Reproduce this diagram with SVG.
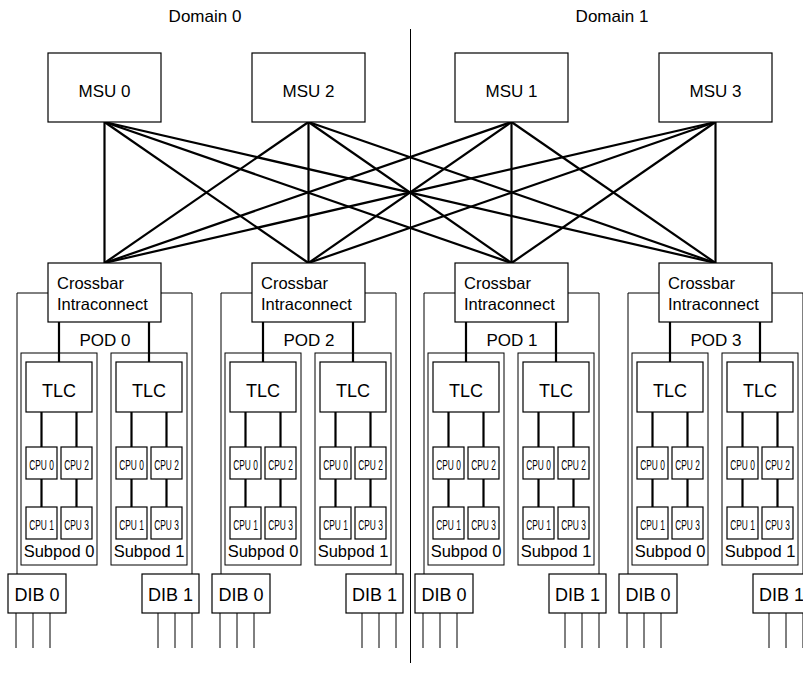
<svg xmlns="http://www.w3.org/2000/svg" width="803" height="677" viewBox="0 0 803 677">
<style>
.box{fill:#fff;stroke:#000;stroke-width:1.2}
.frame{fill:none;stroke:#000;stroke-width:1}
.link{stroke:#000;stroke-width:2.2;fill:none}
.thin{stroke:#000;stroke-width:1;fill:none}
text{font-family:"Liberation Sans",Arial,Helvetica,sans-serif;fill:#000}
.t17{font-size:17px}
.t18{font-size:18px}
.t16{font-size:16.5px}
.c{text-anchor:middle}
.cpu{font-size:14px;text-anchor:middle}
</style>

<!-- domain labels and divider -->
<text class="t17 c" x="205" y="22">Domain 0</text>
<text class="t17 c" x="612" y="22">Domain 1</text>
<line class="thin" x1="410.5" y1="29" x2="410.5" y2="663"/>

<!-- POD frames and subpod boxes -->
<g id="frames">
  <g transform="translate(0,0)">
    <polyline class="frame" points="17,574 17,293 192,293 192,574"/>
    <rect class="frame" x="21" y="353" width="76" height="212"/>
    <rect class="frame" x="111" y="353" width="76" height="212"/>
  </g>
  <g transform="translate(204,0)">
    <polyline class="frame" points="17,574 17,293 192,293 192,574"/>
    <rect class="frame" x="21" y="353" width="76" height="212"/>
    <rect class="frame" x="111" y="353" width="76" height="212"/>
  </g>
  <g transform="translate(407,0)">
    <polyline class="frame" points="17,574 17,293 192,293 192,574"/>
    <rect class="frame" x="21" y="353" width="76" height="212"/>
    <rect class="frame" x="111" y="353" width="76" height="212"/>
  </g>
  <g transform="translate(611,0)">
    <polyline class="frame" points="17,574 17,293 192,293 192,574"/>
    <rect class="frame" x="21" y="353" width="76" height="212"/>
    <rect class="frame" x="111" y="353" width="76" height="212"/>
  </g>
</g>

<!-- connectors -->
<g id="connectors">
  <g id="msu-xbar" class="link">
    <line x1="104.5" y1="122" x2="104.5" y2="263"/>
    <line x1="104.5" y1="122" x2="308.5" y2="263"/>
    <line x1="104.5" y1="122" x2="511.5" y2="263"/>
    <line x1="104.5" y1="122" x2="715.5" y2="263"/>
    <line x1="308.5" y1="122" x2="104.5" y2="263"/>
    <line x1="308.5" y1="122" x2="308.5" y2="263"/>
    <line x1="308.5" y1="122" x2="511.5" y2="263"/>
    <line x1="308.5" y1="122" x2="715.5" y2="263"/>
    <line x1="511.5" y1="122" x2="104.5" y2="263"/>
    <line x1="511.5" y1="122" x2="308.5" y2="263"/>
    <line x1="511.5" y1="122" x2="511.5" y2="263"/>
    <line x1="511.5" y1="122" x2="715.5" y2="263"/>
    <line x1="715.5" y1="122" x2="104.5" y2="263"/>
    <line x1="715.5" y1="122" x2="308.5" y2="263"/>
    <line x1="715.5" y1="122" x2="511.5" y2="263"/>
    <line x1="715.5" y1="122" x2="715.5" y2="263"/>
  </g>
  <g transform="translate(0,0)">
    <path class="link" d="M59,322V362M149,322V362M41.5,412V447M76.5,412V447M41.5,479V507M76.5,479V507M131.5,412V447M166.5,412V447M131.5,479V507M166.5,479V507"/>
    <path class="thin" d="M16,613V648M33,613V648M50,613V648M158,613V648M175,613V648M192,613V648"/>
  </g>
  <g transform="translate(204,0)">
    <path class="link" d="M59,322V362M149,322V362M41.5,412V447M76.5,412V447M41.5,479V507M76.5,479V507M131.5,412V447M166.5,412V447M131.5,479V507M166.5,479V507"/>
    <path class="thin" d="M16,613V648M33,613V648M50,613V648M158,613V648M175,613V648M192,613V648"/>
  </g>
  <g transform="translate(407,0)">
    <path class="link" d="M59,322V362M149,322V362M41.5,412V447M76.5,412V447M41.5,479V507M76.5,479V507M131.5,412V447M166.5,412V447M131.5,479V507M166.5,479V507"/>
    <path class="thin" d="M16,613V648M33,613V648M50,613V648M158,613V648M175,613V648M192,613V648"/>
  </g>
  <g transform="translate(611,0)">
    <path class="link" d="M59,322V362M149,322V362M41.5,412V447M76.5,412V447M41.5,479V507M76.5,479V507M131.5,412V447M166.5,412V447M131.5,479V507M166.5,479V507"/>
    <path class="thin" d="M16,613V648M33,613V648M50,613V648M158,613V648M175,613V648M192,613V648"/>
  </g>
</g>

<!-- MSU nodes -->
<g id="msu0"><rect class="box" x="48" y="53" width="113" height="69"/><text class="t17 c" x="104.5" y="97">MSU 0</text></g>
<g id="msu2"><rect class="box" x="252" y="53" width="113" height="69"/><text class="t17 c" x="308.5" y="97">MSU 2</text></g>
<g id="msu1"><rect class="box" x="455" y="53" width="113" height="69"/><text class="t17 c" x="511.5" y="97">MSU 1</text></g>
<g id="msu3"><rect class="box" x="659" y="53" width="113" height="69"/><text class="t17 c" x="715.5" y="97">MSU 3</text></g>

<!-- POD 0 -->
<g id="pod0" transform="translate(0,0)">
  <text class="t17 c" x="105" y="346">POD 0</text>
  <g id="pod0-xbar"><rect class="box" x="48" y="263" width="113" height="59"/><text class="t16" x="57" y="289">Crossbar</text><text class="t16" x="57" y="310">Intraconnect</text></g>
  <g id="pod0-subpod0">
    <text class="t16 c" x="59" y="557">Subpod 0</text>
    <g id="pod0-sp0-tlc"><rect class="box" x="26" y="362" width="66" height="50"/><text class="t18 c" x="59" y="397">TLC</text></g>
    <g id="pod0-sp0-cpu0"><rect class="box" x="26" y="447" width="31" height="32"/><text class="cpu" transform="translate(41.5,470) scale(0.6,1)">CPU 0</text></g>
    <g id="pod0-sp0-cpu2"><rect class="box" x="61" y="447" width="31" height="32"/><text class="cpu" transform="translate(76.5,470) scale(0.6,1)">CPU 2</text></g>
    <g id="pod0-sp0-cpu1"><rect class="box" x="26" y="507" width="31" height="32"/><text class="cpu" transform="translate(41.5,530) scale(0.6,1)">CPU 1</text></g>
    <g id="pod0-sp0-cpu3"><rect class="box" x="61" y="507" width="31" height="32"/><text class="cpu" transform="translate(76.5,530) scale(0.6,1)">CPU 3</text></g>
  </g>
  <g id="pod0-subpod1">
    <text class="t16 c" x="149" y="557">Subpod 1</text>
    <g id="pod0-sp1-tlc"><rect class="box" x="116" y="362" width="66" height="50"/><text class="t18 c" x="149" y="397">TLC</text></g>
    <g id="pod0-sp1-cpu0"><rect class="box" x="116" y="447" width="31" height="32"/><text class="cpu" transform="translate(131.5,470) scale(0.6,1)">CPU 0</text></g>
    <g id="pod0-sp1-cpu2"><rect class="box" x="151" y="447" width="31" height="32"/><text class="cpu" transform="translate(166.5,470) scale(0.6,1)">CPU 2</text></g>
    <g id="pod0-sp1-cpu1"><rect class="box" x="116" y="507" width="31" height="32"/><text class="cpu" transform="translate(131.5,530) scale(0.6,1)">CPU 1</text></g>
    <g id="pod0-sp1-cpu3"><rect class="box" x="151" y="507" width="31" height="32"/><text class="cpu" transform="translate(166.5,530) scale(0.6,1)">CPU 3</text></g>
  </g>
  <g id="pod0-dib0"><rect class="box" x="8" y="574" width="58" height="39"/><text class="t18 c" x="37" y="601">DIB 0</text></g>
  <g id="pod0-dib1"><rect class="box" x="142" y="574" width="57" height="39"/><text class="t18 c" x="170.5" y="601">DIB 1</text></g>
</g>

<!-- POD 2 -->
<g id="pod2" transform="translate(204,0)">
  <text class="t17 c" x="105" y="346">POD 2</text>
  <g id="pod2-xbar"><rect class="box" x="48" y="263" width="113" height="59"/><text class="t16" x="57" y="289">Crossbar</text><text class="t16" x="57" y="310">Intraconnect</text></g>
  <g id="pod2-subpod0">
    <text class="t16 c" x="59" y="557">Subpod 0</text>
    <g id="pod2-sp0-tlc"><rect class="box" x="26" y="362" width="66" height="50"/><text class="t18 c" x="59" y="397">TLC</text></g>
    <g id="pod2-sp0-cpu0"><rect class="box" x="26" y="447" width="31" height="32"/><text class="cpu" transform="translate(41.5,470) scale(0.6,1)">CPU 0</text></g>
    <g id="pod2-sp0-cpu2"><rect class="box" x="61" y="447" width="31" height="32"/><text class="cpu" transform="translate(76.5,470) scale(0.6,1)">CPU 2</text></g>
    <g id="pod2-sp0-cpu1"><rect class="box" x="26" y="507" width="31" height="32"/><text class="cpu" transform="translate(41.5,530) scale(0.6,1)">CPU 1</text></g>
    <g id="pod2-sp0-cpu3"><rect class="box" x="61" y="507" width="31" height="32"/><text class="cpu" transform="translate(76.5,530) scale(0.6,1)">CPU 3</text></g>
  </g>
  <g id="pod2-subpod1">
    <text class="t16 c" x="149" y="557">Subpod 1</text>
    <g id="pod2-sp1-tlc"><rect class="box" x="116" y="362" width="66" height="50"/><text class="t18 c" x="149" y="397">TLC</text></g>
    <g id="pod2-sp1-cpu0"><rect class="box" x="116" y="447" width="31" height="32"/><text class="cpu" transform="translate(131.5,470) scale(0.6,1)">CPU 0</text></g>
    <g id="pod2-sp1-cpu2"><rect class="box" x="151" y="447" width="31" height="32"/><text class="cpu" transform="translate(166.5,470) scale(0.6,1)">CPU 2</text></g>
    <g id="pod2-sp1-cpu1"><rect class="box" x="116" y="507" width="31" height="32"/><text class="cpu" transform="translate(131.5,530) scale(0.6,1)">CPU 1</text></g>
    <g id="pod2-sp1-cpu3"><rect class="box" x="151" y="507" width="31" height="32"/><text class="cpu" transform="translate(166.5,530) scale(0.6,1)">CPU 3</text></g>
  </g>
  <g id="pod2-dib0"><rect class="box" x="8" y="574" width="58" height="39"/><text class="t18 c" x="37" y="601">DIB 0</text></g>
  <g id="pod2-dib1"><rect class="box" x="142" y="574" width="57" height="39"/><text class="t18 c" x="170.5" y="601">DIB 1</text></g>
</g>

<!-- POD 1 -->
<g id="pod1" transform="translate(407,0)">
  <text class="t17 c" x="105" y="346">POD 1</text>
  <g id="pod1-xbar"><rect class="box" x="48" y="263" width="113" height="59"/><text class="t16" x="57" y="289">Crossbar</text><text class="t16" x="57" y="310">Intraconnect</text></g>
  <g id="pod1-subpod0">
    <text class="t16 c" x="59" y="557">Subpod 0</text>
    <g id="pod1-sp0-tlc"><rect class="box" x="26" y="362" width="66" height="50"/><text class="t18 c" x="59" y="397">TLC</text></g>
    <g id="pod1-sp0-cpu0"><rect class="box" x="26" y="447" width="31" height="32"/><text class="cpu" transform="translate(41.5,470) scale(0.6,1)">CPU 0</text></g>
    <g id="pod1-sp0-cpu2"><rect class="box" x="61" y="447" width="31" height="32"/><text class="cpu" transform="translate(76.5,470) scale(0.6,1)">CPU 2</text></g>
    <g id="pod1-sp0-cpu1"><rect class="box" x="26" y="507" width="31" height="32"/><text class="cpu" transform="translate(41.5,530) scale(0.6,1)">CPU 1</text></g>
    <g id="pod1-sp0-cpu3"><rect class="box" x="61" y="507" width="31" height="32"/><text class="cpu" transform="translate(76.5,530) scale(0.6,1)">CPU 3</text></g>
  </g>
  <g id="pod1-subpod1">
    <text class="t16 c" x="149" y="557">Subpod 1</text>
    <g id="pod1-sp1-tlc"><rect class="box" x="116" y="362" width="66" height="50"/><text class="t18 c" x="149" y="397">TLC</text></g>
    <g id="pod1-sp1-cpu0"><rect class="box" x="116" y="447" width="31" height="32"/><text class="cpu" transform="translate(131.5,470) scale(0.6,1)">CPU 0</text></g>
    <g id="pod1-sp1-cpu2"><rect class="box" x="151" y="447" width="31" height="32"/><text class="cpu" transform="translate(166.5,470) scale(0.6,1)">CPU 2</text></g>
    <g id="pod1-sp1-cpu1"><rect class="box" x="116" y="507" width="31" height="32"/><text class="cpu" transform="translate(131.5,530) scale(0.6,1)">CPU 1</text></g>
    <g id="pod1-sp1-cpu3"><rect class="box" x="151" y="507" width="31" height="32"/><text class="cpu" transform="translate(166.5,530) scale(0.6,1)">CPU 3</text></g>
  </g>
  <g id="pod1-dib0"><rect class="box" x="8" y="574" width="58" height="39"/><text class="t18 c" x="37" y="601">DIB 0</text></g>
  <g id="pod1-dib1"><rect class="box" x="142" y="574" width="57" height="39"/><text class="t18 c" x="170.5" y="601">DIB 1</text></g>
</g>

<!-- POD 3 -->
<g id="pod3" transform="translate(611,0)">
  <text class="t17 c" x="105" y="346">POD 3</text>
  <g id="pod3-xbar"><rect class="box" x="48" y="263" width="113" height="59"/><text class="t16" x="57" y="289">Crossbar</text><text class="t16" x="57" y="310">Intraconnect</text></g>
  <g id="pod3-subpod0">
    <text class="t16 c" x="59" y="557">Subpod 0</text>
    <g id="pod3-sp0-tlc"><rect class="box" x="26" y="362" width="66" height="50"/><text class="t18 c" x="59" y="397">TLC</text></g>
    <g id="pod3-sp0-cpu0"><rect class="box" x="26" y="447" width="31" height="32"/><text class="cpu" transform="translate(41.5,470) scale(0.6,1)">CPU 0</text></g>
    <g id="pod3-sp0-cpu2"><rect class="box" x="61" y="447" width="31" height="32"/><text class="cpu" transform="translate(76.5,470) scale(0.6,1)">CPU 2</text></g>
    <g id="pod3-sp0-cpu1"><rect class="box" x="26" y="507" width="31" height="32"/><text class="cpu" transform="translate(41.5,530) scale(0.6,1)">CPU 1</text></g>
    <g id="pod3-sp0-cpu3"><rect class="box" x="61" y="507" width="31" height="32"/><text class="cpu" transform="translate(76.5,530) scale(0.6,1)">CPU 3</text></g>
  </g>
  <g id="pod3-subpod1">
    <text class="t16 c" x="149" y="557">Subpod 1</text>
    <g id="pod3-sp1-tlc"><rect class="box" x="116" y="362" width="66" height="50"/><text class="t18 c" x="149" y="397">TLC</text></g>
    <g id="pod3-sp1-cpu0"><rect class="box" x="116" y="447" width="31" height="32"/><text class="cpu" transform="translate(131.5,470) scale(0.6,1)">CPU 0</text></g>
    <g id="pod3-sp1-cpu2"><rect class="box" x="151" y="447" width="31" height="32"/><text class="cpu" transform="translate(166.5,470) scale(0.6,1)">CPU 2</text></g>
    <g id="pod3-sp1-cpu1"><rect class="box" x="116" y="507" width="31" height="32"/><text class="cpu" transform="translate(131.5,530) scale(0.6,1)">CPU 1</text></g>
    <g id="pod3-sp1-cpu3"><rect class="box" x="151" y="507" width="31" height="32"/><text class="cpu" transform="translate(166.5,530) scale(0.6,1)">CPU 3</text></g>
  </g>
  <g id="pod3-dib0"><rect class="box" x="8" y="574" width="58" height="39"/><text class="t18 c" x="37" y="601">DIB 0</text></g>
  <g id="pod3-dib1"><rect class="box" x="142" y="574" width="57" height="39"/><text class="t18 c" x="170.5" y="601">DIB 1</text></g>
</g>
</svg>
